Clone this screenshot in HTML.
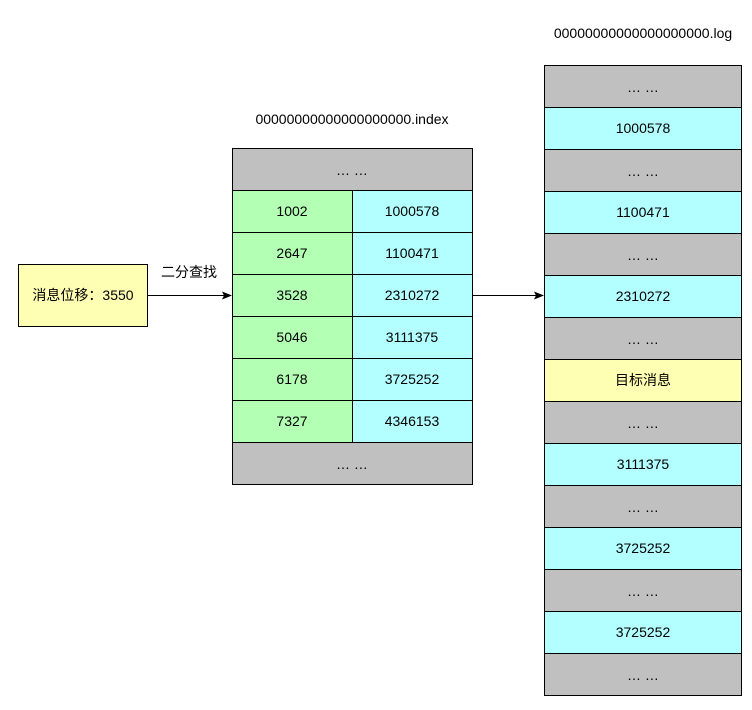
<!DOCTYPE html>
<html><head><meta charset="utf-8"><style>
body{margin:0;background:#fff;width:752px;height:705px;overflow:hidden}
text{font-family:"Liberation Sans","Noto Sans CJK SC",sans-serif;font-size:14px;fill:#000}
</style></head><body>
<svg width="752" height="705" xmlns="http://www.w3.org/2000/svg">
<defs><marker id="a" markerWidth="10" markerHeight="8" refX="9" refY="4" orient="auto" markerUnits="userSpaceOnUse"><path d="M0,0 L10,4 L0,8 L2,4 Z" fill="#000"/></marker></defs>
<g stroke="#000" stroke-width="1">
<rect x="18.5" y="264.5" width="129" height="62" fill="#ffffb3"/>
<!-- index -->
<rect x="232.5" y="148.5" width="240" height="42" fill="#c0c0c0"/>
<rect x="232.5" y="190.5" width="120" height="42" fill="#b3ffb3"/><rect x="352.5" y="190.5" width="120" height="42" fill="#b3ffff"/>
<rect x="232.5" y="232.5" width="120" height="42" fill="#b3ffb3"/><rect x="352.5" y="232.5" width="120" height="42" fill="#b3ffff"/>
<rect x="232.5" y="274.5" width="120" height="42" fill="#b3ffb3"/><rect x="352.5" y="274.5" width="120" height="42" fill="#b3ffff"/>
<rect x="232.5" y="316.5" width="120" height="42" fill="#b3ffb3"/><rect x="352.5" y="316.5" width="120" height="42" fill="#b3ffff"/>
<rect x="232.5" y="358.5" width="120" height="42" fill="#b3ffb3"/><rect x="352.5" y="358.5" width="120" height="42" fill="#b3ffff"/>
<rect x="232.5" y="400.5" width="120" height="42" fill="#b3ffb3"/><rect x="352.5" y="400.5" width="120" height="42" fill="#b3ffff"/>
<rect x="232.5" y="442.5" width="240" height="42" fill="#c0c0c0"/>
<!-- log -->
<rect x="544.5" y="65.5" width="197" height="42" fill="#c0c0c0"/>
<rect x="544.5" y="107.5" width="197" height="42" fill="#b3ffff"/>
<rect x="544.5" y="149.5" width="197" height="42" fill="#c0c0c0"/>
<rect x="544.5" y="191.5" width="197" height="42" fill="#b3ffff"/>
<rect x="544.5" y="233.5" width="197" height="42" fill="#c0c0c0"/>
<rect x="544.5" y="275.5" width="197" height="42" fill="#b3ffff"/>
<rect x="544.5" y="317.5" width="197" height="42" fill="#c0c0c0"/>
<rect x="544.5" y="359.5" width="197" height="42" fill="#ffffb3"/>
<rect x="544.5" y="401.5" width="197" height="42" fill="#c0c0c0"/>
<rect x="544.5" y="443.5" width="197" height="42" fill="#b3ffff"/>
<rect x="544.5" y="485.5" width="197" height="42" fill="#c0c0c0"/>
<rect x="544.5" y="527.5" width="197" height="42" fill="#b3ffff"/>
<rect x="544.5" y="569.5" width="197" height="42" fill="#c0c0c0"/>
<rect x="544.5" y="611.5" width="197" height="42" fill="#b3ffff"/>
<rect x="544.5" y="653.5" width="197" height="42" fill="#c0c0c0"/>
<line x1="148" y1="295.5" x2="231" y2="295.5" marker-end="url(#a)"/>
<line x1="473" y1="295.5" x2="543" y2="295.5" marker-end="url(#a)"/>
</g>
<g text-anchor="middle">
<text x="83" y="300">消息位移：3550</text>
<text x="189" y="277">二分查找</text>
<text x="352" y="124">00000000000000000000.index</text>
<text x="643" y="38">00000000000000000000.log</text>
<text x="352" y="175">… …</text>
<text x="292" y="216">1002</text><text x="412" y="216">1000578</text>
<text x="292" y="258">2647</text><text x="412" y="258">1100471</text>
<text x="292" y="300">3528</text><text x="412" y="300">2310272</text>
<text x="292" y="342">5046</text><text x="412" y="342">3111375</text>
<text x="292" y="384">6178</text><text x="412" y="384">3725252</text>
<text x="292" y="426">7327</text><text x="412" y="426">4346153</text>
<text x="352" y="469">… …</text>
<text x="643" y="92">… …</text>
<text x="643" y="133">1000578</text>
<text x="643" y="176">… …</text>
<text x="643" y="217">1100471</text>
<text x="643" y="260">… …</text>
<text x="643" y="301">2310272</text>
<text x="643" y="344">… …</text>
<text x="643" y="385">目标消息</text>
<text x="643" y="428">… …</text>
<text x="643" y="469">3111375</text>
<text x="643" y="512">… …</text>
<text x="643" y="553">3725252</text>
<text x="643" y="596">… …</text>
<text x="643" y="637">3725252</text>
<text x="643" y="680">… …</text>
</g>
</svg>
</body></html>
